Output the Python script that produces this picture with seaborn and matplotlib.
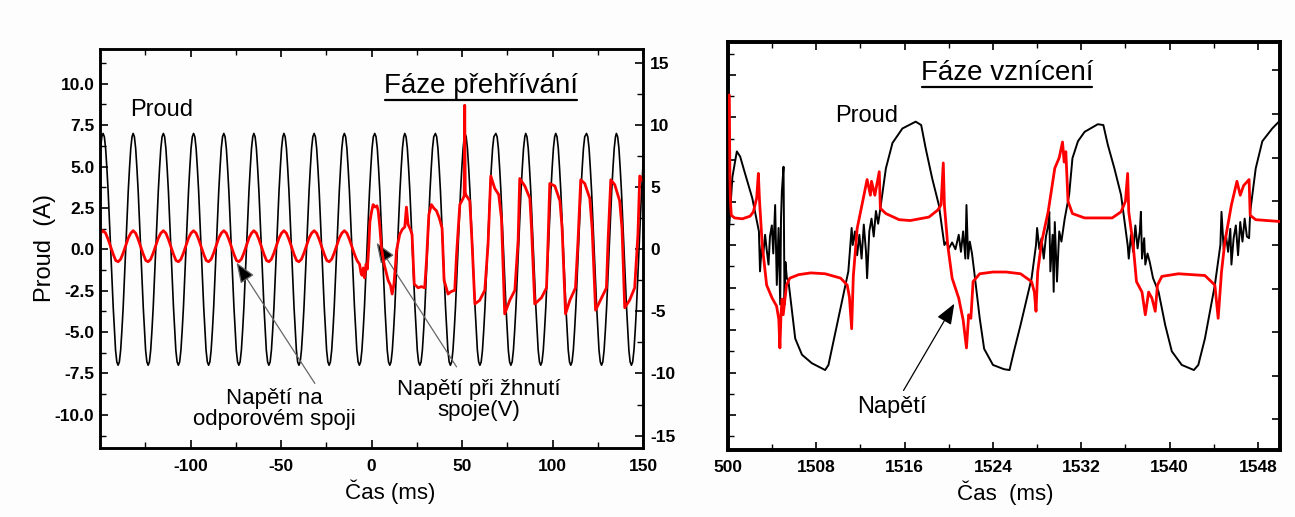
import numpy as np
import pandas as pd
import matplotlib
matplotlib.use("Agg")
import matplotlib.pyplot as plt
import seaborn as sns
from matplotlib.lines import Line2D
from matplotlib.ticker import MultipleLocator

# ---------------- left panel: overheating phase (Fáze přehřívání) ----------------
# times of the current maxima (ms)
heat_peak_ms = [-165.0, -148.3, -131.7, -115.0, -98.3, -81.6, -65.0, -48.4, -31.7,
                -15.0, 1.8, 18.4, 35.3, 51.6, 68.7, 85.2, 101.8, 118.8, 135.3, 152.0]

# one period of the current trace: offset from a maximum (ms) and current (A)
cycle_offset_ms = [0.0, 0.7, 1.4, 2.1, 2.8, 3.5, 4.2, 4.9, 5.6, 6.3, 6.9, 7.6,
                   8.3, 9.0, 9.7, 10.4, 11.1, 11.8, 12.5, 13.2, 13.9, 14.6, 15.3, 16.0]
cycle_current_a = [7.0, 6.8, 6.1, 4.9, 3.5, 1.8, 0.0, -1.8, -3.5, -4.9, -6.1, -6.8,
                   -7.0, -6.8, -6.1, -4.9, -3.5, -1.8, 0.0, 1.8, 3.5, 4.9, 6.1, 6.8]

# one period of the small voltage on the resistive joint (V), before t = -15 ms
rest_offset_ms = [0.0, 1.4, 2.8, 4.2, 5.6, 7.0, 8.3, 9.7, 11.1, 12.5, 13.9, 15.3]
rest_voltage_v = [1.5, 1.3, 0.8, 0.2, -0.4, -0.9, -1.0, -0.8, -0.3, 0.3, 0.9, 1.3]
rest_peak_ms = heat_peak_ms[:9]

# voltage while the joint glows (V), from t = -15 ms on
glow_ms = [-15.0, -13.6, -12.2, -10.8, -9.4, -8.0, -6.6, -5.8, -5.2, -4.5, -3.8, -3.0, -2.3,
           -1.5, -0.9, 0.0, 0.9, 2.0, 3.0, 3.7, 4.6, 5.5, 7.0, 9.2, 10.5, 11.4, 12.4, 13.2,
           13.8, 15.6, 17.0, 18.4, 19.3, 20.2, 21.5, 22.4, 23.6, 25.8, 27.5, 29.4,
           30.4, 31.7, 33.1, 34.5, 35.9, 37.5, 39.0, 40.1, 42.3, 44.0, 46.0,
           47.0, 48.8, 50.6, 51.2, 51.5, 51.8, 52.1, 54.3, 55.6, 57.1, 59.8, 62.6,
           64.4, 65.9, 68.1, 70.3, 71.8, 73.6, 76.4, 79.2,
           81.0, 81.9, 84.7, 87.5, 88.4, 90.2, 93.9, 96.7,
           97.6, 98.5, 101.3, 104.1, 105.3, 107.2, 109.6, 112.7,
           114.1, 115.6, 117.8, 120.6, 121.9, 123.8, 127.1, 129.8,
           130.7, 132.2, 134.4, 137.1, 138.4, 139.9, 142.6, 145.4,
           147.2, 148.2, 150.0]
glow_v = [1.5, 1.3, 0.8, 0.2, -0.4, -0.9, -1.2, -1.9, -2.1, -1.5, -2.3, -1.2, -1.6,
          0.2, 2.2, 3.0, 3.6, 3.4, 3.5, 3.1, 1.8, 0.1, -1.2, -2.5, -2.9, -3.6, -2.8, -1.4,
          -0.1, 1.2, 1.6, 1.8, 3.4, 2.0, 1.6, 1.2, -2.8, -3.1, -3.0, -3.1,
          -0.9, 2.8, 3.6, 3.3, 3.1, 2.5, 1.7, -2.5, -3.6, -3.4, -3.3,
          -0.4, 3.6, 4.1, 4.3, 11.6, 4.6, 4.4, 3.9, 0.4, -4.4, -4.1, -3.3,
          0.4, 5.9, 4.9, 4.4, 2.5, -5.2, -4.1, -3.3,
          0.7, 5.7, 5.1, 4.1, 1.7, -4.4, -3.9, -3.1,
          0.9, 5.3, 5.1, 3.9, 1.7, -5.2, -4.1, -3.1,
          0.7, 5.6, 5.3, 4.1, 1.7, -4.9, -3.9, -3.1,
          0.7, 5.6, 5.2, 3.9, 1.7, -4.7, -4.1, -3.1,
          1.2, 5.9, 5.5]

heat_x_ticks = [-100, -50, 0, 50, 100, 150]
heat_i_ticks = [-10.0, -7.5, -5.0, -2.5, 0.0, 2.5, 5.0, 7.5, 10.0]
heat_v_ticks = [-15, -10, -5, 0, 5, 10, 15]

# ---------------- right panel: ignition phase (Fáze vznícení) ----------------
ign_current_ms = [1500.0, 1500.1, 1500.4, 1500.8, 1501.1, 1501.5, 1502.2, 1502.8,
                  1502.9, 1503.06, 1503.2, 1503.36, 1503.5, 1503.67, 1503.8, 1503.97, 1504.1,
                  1504.27, 1504.42, 1504.58, 1504.73, 1504.8, 1504.88, 1505.03, 1505.12, 1505.2, 1505.33,
                  1505.48, 1506.09, 1506.7, 1507.6, 1508.8, 1509.1, 1510.0, 1510.9,
                  1511.2, 1511.3, 1511.5, 1511.7, 1511.9, 1512.1, 1512.3, 1512.5, 1512.6, 1512.8,
                  1513.0, 1513.2, 1513.4, 1513.6,
                  1513.8, 1514.3, 1514.9, 1515.8, 1517.0, 1517.5, 1517.9, 1518.5, 1519.1, 1519.6,
                  1519.8, 1520.0, 1520.3, 1520.6, 1520.9, 1521.1, 1521.3, 1521.5, 1521.6, 1521.75,
                  1521.9, 1522.1, 1522.3,
                  1522.8, 1523.2, 1524.0, 1525.0, 1525.5, 1525.9, 1526.5, 1527.5, 1527.9,
                  1528.0, 1528.2, 1528.4, 1528.6, 1528.8, 1529.0, 1529.1, 1529.2, 1529.4, 1529.5,
                  1529.6, 1529.8, 1530.0, 1530.2, 1530.5,
                  1530.9, 1531.2, 1531.7, 1532.3, 1533.5, 1534.0, 1534.4, 1535.0, 1535.6, 1536.2,
                  1536.3, 1536.5, 1536.7, 1536.9, 1537.1, 1537.3, 1537.4, 1537.5, 1537.7, 1537.8,
                  1538.0, 1538.2, 1538.5,
                  1539.0, 1539.6, 1540.2, 1541.1, 1542.2, 1542.6, 1543.2, 1544.1, 1544.6,
                  1544.7, 1544.9, 1545.1, 1545.3, 1545.5, 1545.6, 1545.8, 1546.0, 1546.2, 1546.4,
                  1546.6, 1546.8, 1547.0, 1547.2,
                  1547.3, 1547.8, 1548.4, 1549.3, 1549.9, 1550.0]
ign_current_a = [-3.0, 2.0, 8.0, 11.0, 10.4, 8.6, 5.5, 1.6,
                 -3.1, 0.0, -1.0, 1.2, -0.5, -2.3, 1.0, 2.3, -1.0,
                 4.7, -4.7, 2.0, -7.0, 3.0, 6.3, 9.2, -7.0, -2.0, -3.9,
                 -4.3, -11.0, -12.9, -13.9, -14.7, -14.1, -8.6, -3.1,
                 2.0, 0.0, 1.6, -1.2, 1.2, -1.6, 2.4, -0.8, -3.9, 1.6,
                 3.1, 1.0, 4.0, 2.5,
                 4.3, 9.0, 12.0, 13.7, 14.5, 14.1, 11.4, 7.8, 4.7, 0.0,
                 0.4, -0.4, 0.3, -0.5, 1.2, -0.8, 1.6, -1.6, 4.7, -1.6,
                 0.4, -1.0, -3.1,
                 -8.6, -12.2, -14.1, -14.6, -14.7, -12.5, -9.4, -3.9, 0.0,
                 2.0, -0.5, 0.8, -1.6, 1.0, 2.3, 3.9, -3.1, 1.2, -5.5,
                 2.7, -4.3, 1.6, 0.4, 3.1,
                 5.9, 10.2, 12.2, 13.3, 14.2, 14.1, 11.8, 9.0, 5.9, 0.0,
                 -1.6, 1.2, -0.8, 2.3, -0.4, 1.6, 3.9, -1.6, 0.8, -2.3,
                 -1.0, -2.0, -3.9,
                 -5.5, -9.4, -12.5, -14.1, -14.7, -14.1, -11.0, -4.7, 0.0,
                 3.9, -0.5, 1.2, -0.8, 1.9, -2.3, 0.8, 2.3, -1.2, 2.7,
                 0.4, 3.1, 1.0, 0.8,
                 3.9, 9.0, 12.2, 13.7, 14.5, 14.6]

ign_voltage_ms = [1500.12, 1500.17, 1500.22, 1500.3, 1500.6, 1501.3, 1502.0, 1502.3, 1502.6, 1502.75,
                  1502.85, 1503.1, 1503.5, 1504.0, 1504.4, 1504.6, 1504.7, 1504.8, 1504.9, 1505.0,
                  1505.3, 1505.6, 1506.4, 1507.5, 1508.8, 1510.2, 1510.8, 1511.0, 1511.2, 1511.35,
                  1511.7, 1512.2, 1512.6, 1512.9, 1513.0, 1513.3, 1513.7, 1513.8, 1514.3, 1515.5,
                  1516.5, 1518.2, 1519.0, 1519.3, 1519.5, 1519.6, 1519.9, 1520.3, 1520.9, 1521.3,
                  1521.6, 1521.8, 1522.0, 1522.2, 1522.8, 1524.0, 1525.2, 1526.5, 1527.5, 1527.75,
                  1527.9, 1528.05, 1528.4, 1529.0, 1529.6, 1530.0, 1530.3, 1530.45, 1530.6, 1530.8,
                  1531.2, 1532.3, 1534.8, 1535.6, 1536.0, 1536.2, 1536.3, 1536.7, 1537.0, 1537.5,
                  1537.8, 1538.1, 1538.4, 1538.7, 1538.9, 1539.3, 1540.8, 1543.2, 1544.1, 1544.4,
                  1544.7, 1545.0, 1545.6, 1546.1, 1546.4, 1546.7, 1547.2, 1547.3, 1547.8, 1549.9,
                  1550.0]
ign_voltage_v = [17.2, 8.0, 5.0, 3.4, 3.1, 3.0, 3.3, 3.8, 5.4, 8.2,
                 5.2, 0.0, -4.6, -6.1, -7.0, -8.5, -11.8, -8.0, -6.2, -8.0,
                 -4.6, -3.8, -3.4, -3.2, -3.3, -3.8, -4.6, -6.0, -9.6, -3.6,
                 1.9, 5.0, 7.5, 5.7, 7.3, 5.7, 8.4, 4.2, 3.6, 2.9,
                 2.8, 3.2, 4.0, 4.6, 9.4, 4.6, 0.0, -3.8, -6.1, -8.6,
                 -11.8, -8.0, -8.4, -4.2, -3.3, -3.1, -3.1, -3.3, -4.2, -5.4,
                 -7.6, -3.1, 0.3, 3.8, 8.8, 10.0, 11.8, 9.5, 10.7, 5.0,
                 3.6, 3.1, 3.1, 3.8, 5.0, 8.2, 3.8, 0.0, -4.2, -5.4,
                 -8.0, -5.4, -6.1, -7.6, -4.6, -3.6, -3.3, -3.5, -4.6, -8.4,
                 -3.1, 0.3, 4.6, 7.3, 5.7, 6.8, 7.5, 3.4, 2.9, 2.7,
                 2.7]

ign_x_ticks = [1500, 1508, 1516, 1524, 1532, 1540, 1548]
ign_x_labels = ["500", "1508", "1516", "1524", "1532", "1540", "1548"]

RED = "#ff0000"
BG = "#fdfdfd"


def tile_cycles(peaks, offsets, values):
    """Repeat one read-off period at every listed maximum."""
    t = [p + o for p in peaks for o in offsets]
    v = [val for _ in peaks for val in values]
    return np.array(t), np.array(v)


def underline(fig, txt, lw=1.6):
    """Draw a line under a text object (in pixels)."""
    fig.canvas.draw()
    bb = txt.get_window_extent()
    y = bb.y0 - 1
    fig.add_artist(Line2D([bb.x0 + 1, bb.x1 - 1], [y, y], transform=None,
                          color="black", lw=lw))


def style_box(ax, lw):
    for sp in ax.spines.values():
        sp.set_visible(True)
        sp.set_linewidth(lw)
        sp.set_color("black")


def main():
    sns.set_theme(style="ticks")
    plt.rcParams["font.family"] = ["Liberation Sans", "DejaVu Sans"]
    plt.rcParams["axes.unicode_minus"] = False
    plt.rcParams["text.color"] = "black"
    plt.rcParams["axes.labelcolor"] = "black"
    plt.rcParams["xtick.color"] = "black"
    plt.rcParams["ytick.color"] = "black"

    fig = plt.figure(figsize=(12.95, 5.17), dpi=100, facecolor=BG)

    # ---------------- left panel ----------------
    ax1 = fig.add_axes([100 / 1295, 69 / 517, 543 / 1295, 399 / 517])
    ax1.set_facecolor(BG)
    ax2 = ax1.twinx()

    cur_t, cur_i = tile_cycles(heat_peak_ms, cycle_offset_ms, cycle_current_a)
    sns.lineplot(x=cur_t, y=cur_i, ax=ax1, color="black", lw=1.2,
                 sort=False, estimator=None)

    rest_t, rest_v = tile_cycles(rest_peak_ms, rest_offset_ms, rest_voltage_v)
    volt_t = np.concatenate([rest_t, glow_ms])
    volt_v = np.concatenate([rest_v, glow_v])
    sns.lineplot(x=volt_t, y=volt_v, ax=ax2, color=RED, lw=2.0,
                 sort=False, estimator=None)

    ax1.set_xlim(-150, 150)
    ax1.set_ylim(-12.0, 12.1)
    ax2.set_ylim(-16.0, 16.13)

    ax1.set_xticks(heat_x_ticks, labels=[str(v) for v in heat_x_ticks],
                   fontweight="bold", fontsize=12.5)
    ax1.xaxis.set_minor_locator(MultipleLocator(25))
    ax1.set_yticks(heat_i_ticks, labels=[f"{v:.1f}" for v in heat_i_ticks],
                   fontweight="bold", fontsize=12.5)
    ax1.yaxis.set_minor_locator(MultipleLocator(1.25))
    ax2.set_yticks(heat_v_ticks, labels=[str(v) for v in heat_v_ticks],
                   fontweight="bold", fontsize=12.5)
    ax2.yaxis.set_minor_locator(MultipleLocator(2.5))

    ax1.tick_params(which="both", direction="in", top=True, right=False, color="black",
                    labelcolor="black")
    ax1.tick_params(which="major", length=6, width=1.2)
    ax1.tick_params(which="minor", length=4, width=1.0)
    ax1.tick_params(axis="x", pad=8)
    ax1.tick_params(axis="y", pad=4)
    ax2.tick_params(which="both", direction="in", color="black", labelcolor="black", pad=5)
    ax2.tick_params(which="major", length=6, width=1.2)
    ax2.tick_params(which="minor", length=4, width=1.0)
    for a in (ax1, ax2):
        a.set_xlabel("")
        a.set_ylabel("")
        a.grid(False)
        style_box(a, 1.8)

    # annotations
    ax1.text(-116, 8.4, "Proud", fontsize=17, ha="center", va="center")
    ax1.annotate("", xy=(-74.6, -0.8), xytext=(-31.3, -8.1),
                 arrowprops=dict(arrowstyle="-|>,head_length=0.9,head_width=0.35",
                                 fc="black", ec="#666666", lw=0.9, mutation_scale=14,
                                 shrinkA=0, shrinkB=0))
    ax1.annotate("", xy=(2.8, 0.4), xytext=(47.0, -7.1),
                 arrowprops=dict(arrowstyle="-|>,head_length=0.9,head_width=0.35",
                                 fc="black", ec="#666666", lw=0.9, mutation_scale=14,
                                 shrinkA=0, shrinkB=0))
    fig.text(274 / 1295, 1 - 409 / 517, "Napětí na\nodporovém spoji", fontsize=16,
             ha="center", va="center", linespacing=1.05)
    fig.text(479 / 1295, 1 - 400 / 517, "Napětí při žhnutí\nspoje(V)", fontsize=16,
             ha="center", va="center", linespacing=1.05)
    t1 = fig.text(481 / 1295, 1 - 93 / 517, "Fáze přehřívání", fontsize=20,
                  ha="center", va="baseline")

    fig.text(45 / 1295, 1 - 248 / 517, "Proud  (A)", fontsize=17, rotation=90,
             ha="center", va="center")
    fig.text(390 / 1295, 1 - 492 / 517, "Čas (ms)", fontsize=16,
             ha="center", va="center")

    # ---------------- right panel ----------------
    ax3 = fig.add_axes([728 / 1295, 67 / 517, 552 / 1295, 408.3 / 517])
    ax3.set_facecolor("white")
    ax4 = ax3.twinx()

    sns.lineplot(x=ign_current_ms, y=ign_current_a, ax=ax3, color="black", lw=1.4,
                 sort=False, estimator=None)
    sns.lineplot(x=ign_voltage_ms, y=ign_voltage_v, ax=ax4, color=RED, lw=2.0,
                 sort=False, estimator=None, zorder=3)

    ax3.set_xlim(1500, 1550)
    ax3.set_ylim(-24.1, 23.9)
    ax4.set_ylim(-23.5, 23.3)
    ax3.set_xticks(ign_x_ticks, labels=ign_x_labels, fontweight="bold", fontsize=12.5)
    ax3.xaxis.set_minor_locator(MultipleLocator(4))
    ax3.yaxis.set_major_locator(MultipleLocator(5))
    ax3.yaxis.set_minor_locator(MultipleLocator(2.5))
    ax4.yaxis.set_major_locator(MultipleLocator(5))

    ax3.tick_params(which="both", direction="in", top=True, right=False,
                    labelleft=False, color="black", labelcolor="black")
    ax3.tick_params(which="major", length=6, width=1.2)
    ax3.tick_params(which="minor", length=4, width=1.0)
    ax3.tick_params(axis="x", pad=7)
    ax4.tick_params(which="both", direction="in", labelright=False, color="black",
                    length=6, width=1.2)
    for a in (ax3, ax4):
        a.set_xlabel("")
        a.set_ylabel("")
        a.grid(False)
        style_box(a, 2.6)

    ax3.text(1512.6, 15.2, "Proud", fontsize=17, ha="center", va="center")
    ax3.annotate("", xy=(1520.5, -6.9), xytext=(1515.9, -17.1),
                 arrowprops=dict(arrowstyle="-|>,head_length=0.9,head_width=0.35",
                                 fc="black", ec="black", lw=0.9, mutation_scale=14,
                                 shrinkA=0, shrinkB=0))
    ax3.text(1514.8, -19.0, "Napětí", fontsize=17, ha="center", va="center")
    t2 = fig.text(1007 / 1295, 1 - 80 / 517, "Fáze vznícení", fontsize=20,
                  ha="center", va="baseline")
    fig.text(1005 / 1295, 1 - 493 / 517, "Čas  (ms)", fontsize=16,
             ha="center", va="center")

    underline(fig, t1)
    underline(fig, t2)

    fig.savefig("out.png", dpi=100, facecolor=BG)


if __name__ == "__main__":
    main()
